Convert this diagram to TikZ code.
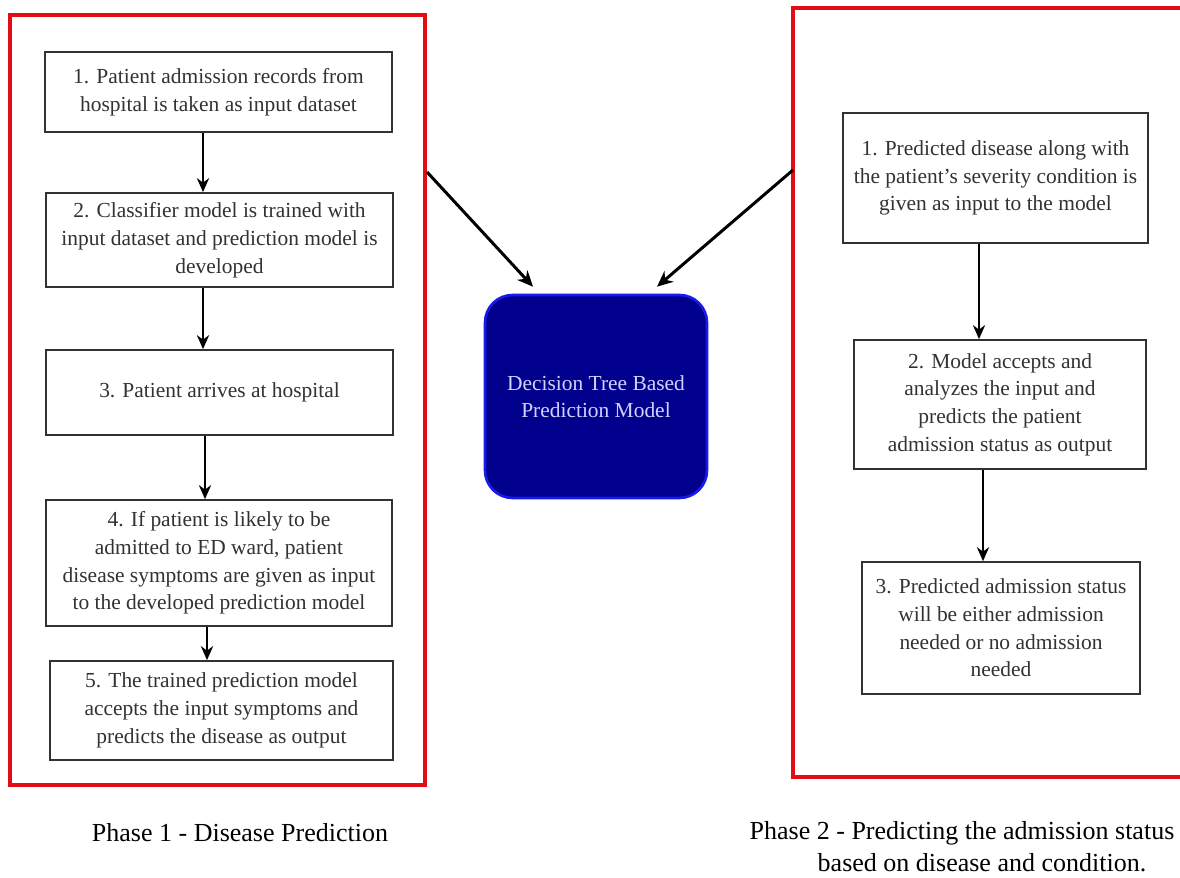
\documentclass[tikz,border=0pt]{standalone}
\usepackage{fontspec}
\setmainfont{Liberation Serif}
\usetikzlibrary{arrows.meta,positioning}
\definecolor{phaseRed}{RGB}{228,12,20}
\definecolor{boxGrey}{RGB}{50,50,50}
\definecolor{modelNavy}{RGB}{0,0,140}
\definecolor{modelEdge}{RGB}{25,25,235}
\definecolor{modelText}{RGB}{210,210,255}

\begin{document}
\begin{tikzpicture}[x=0.02cm, y=-0.02cm,
    stepbox/.style={draw=boxGrey, line width=1pt, fill=white, align=center, text=boxGrey,
        inner sep=0pt, font=\fontsize{12.2}{15.8}\selectfont},
    modelbox/.style={draw=modelEdge, line width=1.5pt, fill=modelNavy, rounded corners=0.55cm,
        align=center, text=modelText, inner sep=0pt, font=\fontsize{12.2}{15.5}\selectfont},
    caption/.style={align=center, inner sep=0pt, font=\fontsize{14.8}{17}\selectfont},
    phaseframe/.style={draw=phaseRed, line width=2.8pt},
    flow/.style={-{Stealth[length=8pt,width=7pt]}, line width=0.9pt, black},
    feed/.style={-{Stealth[length=9pt,width=8pt]}, line width=1.7pt, black}]
    \useasboundingbox[fill=white] (0,0) rectangle (1180,878);

    \draw[phaseframe] (10,15) rectangle (425,785);
    \draw[phaseframe] (793,8) rectangle (1190,777);

    \node[stepbox, minimum width=6.94cm, minimum height=1.6cm] (b1) at (218.5,92)
        {1. Patient admission records from\\hospital is taken as input dataset};
    \node[stepbox, minimum width=6.94cm, minimum height=1.88cm] (b2) at (219.5,240)
        {2. Classifier model is trained with\\input dataset and prediction model is\\developed};
    \node[stepbox, minimum width=6.94cm, minimum height=1.7cm] (b3) at (219.5,392.5)
        {3. Patient arrives at hospital};
    \node[stepbox, minimum width=6.92cm, minimum height=2.52cm] (b4) at (219,563)
        {4. If patient is likely to be\\admitted to ED ward, patient\\disease symptoms are given as input\\to the developed prediction model};
    \node[stepbox, minimum width=6.86cm, minimum height=1.98cm] (b5) at (221.5,710.5)
        {5. The trained prediction model\\accepts the input symptoms and\\predicts the disease as output};

    \node[stepbox, minimum width=6.1cm, minimum height=2.6cm] (r1) at (995.5,178)
        {1. Predicted disease along with\\the patient’s severity condition is\\given as input to the model};
    \node[stepbox, minimum width=5.84cm, minimum height=2.58cm] (r2) at (1000,404.5)
        {2. Model accepts and\\analyzes the input and\\predicts the patient\\admission status as output};
    \node[stepbox, minimum width=5.56cm, minimum height=2.64cm] (r3) at (1001,628)
        {3. Predicted admission status\\will be either admission\\needed or no admission\\needed};

    \node[modelbox, minimum width=4.44cm, minimum height=4.06cm] (dtm) at (596,396.5)
        {Decision Tree Based\\Prediction Model};

    \draw[flow] ([xshift=-0.31cm]b1.south) -- ([xshift=-0.31cm]b1.south |- b2.north);
    \draw[flow] ([xshift=-0.33cm]b2.south) -- ([xshift=-0.33cm]b2.south |- b3.north);
    \draw[flow] ([xshift=-0.29cm]b3.south) -- ([xshift=-0.29cm]b3.south |- b4.north);
    \draw[flow] ([xshift=-0.24cm]b4.south) -- ([xshift=-0.24cm]b4.south |- b5.north);
    \draw[flow] ([xshift=-0.33cm]r1.south) -- ([xshift=-0.33cm]r1.south |- r2.north);
    \draw[flow] ([xshift=-0.34cm]r2.south) -- ([xshift=-0.34cm]r2.south |- r3.north);

    \coordinate (p1out) at (427,172);
    \coordinate (p2out) at (793,170);
    \draw[feed] (p1out) -- ([xshift=-1.26cm, yshift=0.14cm]dtm.north);
    \draw[feed] (p2out) -- ([xshift=1.22cm, yshift=0.14cm]dtm.north);

    \node[caption] (cap1) at (240,833) {Phase 1 - Disease Prediction};
    \node[caption] (cap2) at (962,833) {Phase 2 - Predicting the admission status};
    \node[caption] (cap2b) at (982,863) {based on disease and condition.};
\end{tikzpicture}
\end{document}
